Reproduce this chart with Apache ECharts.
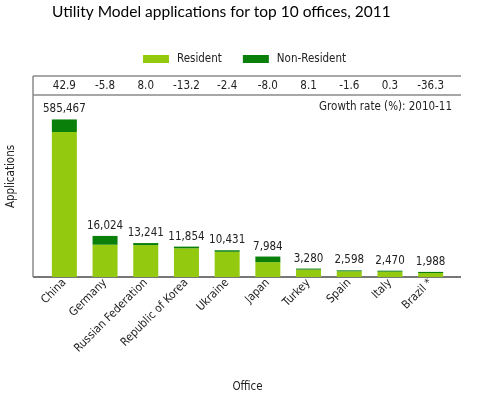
<!DOCTYPE html>
<html><head><meta charset="utf-8">
<script src="https://cdn.jsdelivr.net/npm/echarts@6/dist/echarts.min.js"></script>
<style>html,body{margin:0;padding:0;background:#fff}#c{width:477px;height:394px}</style>
</head><body><div id="c"></div>
<script>
const offices = ['China','Germany','Russian Federation','Republic of Korea','Ukraine','Japan','Turkey','Spain','Italy','Brazil *'];
const totals = [585467,16024,13241,11854,10431,7984,3280,2598,2470,1988];
const nonResident = [4900,3424,800,650,600,2184,400,400,400,450];
const resident = totals.map((t,i)=>t-nonResident[i]);
const growth = ['42.9','-5.8','8.0','-13.2','-2.4','-8.0','8.1','-1.6','0.3','-36.3'];

const FONT = '"DejaVu Sans Condensed",sans-serif';
const FS = 11;
const W=477,H=394, GL=44, GR=26, GT=95, GB=117;
const FL=33, FR=461, FT=76, BASE=H-GB;
const lineColor='#8a8a8a';

const chart = echarts.init(document.getElementById('c'));
chart.setOption({
  animation:false,
  title:{text:'Utility Model applications for top 10 offices, 2011',left:47,top:-1,
    textStyle:{fontFamily:'Lato, sans-serif',fontSize:15.5,fontWeight:'normal',color:'#000'}},
  legend:{left:138,top:48,itemWidth:26,itemHeight:8,itemGap:21,icon:'rect',
    textStyle:{fontFamily:FONT,fontSize:FS+0.5,color:'#222',padding:[0,0,0,3]},
    data:['Resident','Non-Resident']},
  grid:{left:GL,right:GR,top:GT,bottom:GB},
  xAxis:[
    {type:'category',data:offices,position:'bottom',
     axisLine:{show:false},axisTick:{show:false},
     axisLabel:{rotate:45,margin:4,fontFamily:FONT,fontSize:FS+0.5,color:'#222',interval:0},
     name:'Office',nameLocation:'middle',nameGap:104,
     nameTextStyle:{fontFamily:FONT,fontSize:FS+0.5,color:'#222'}},
    {type:'category',data:growth,position:'top',
     axisLine:{show:false},axisTick:{show:false},
     axisLabel:{margin:3,fontFamily:FONT,fontSize:FS+0.5,color:'#222',interval:0}}
  ],
  yAxis:{type:'value',min:0,max:595000,
    breaks:[{start:20000,end:544000,gap:0}],
    breakArea:{show:false},
    axisLine:{show:false},axisTick:{show:false},axisLabel:{show:false},splitLine:{show:false}},
  series:[
    {name:'Resident',type:'bar',stack:'a',barWidth:25,data:resident,
     itemStyle:{color:'#93c90f'}},
    {name:'Non-Resident',type:'bar',stack:'a',barWidth:25,data:nonResident,
     itemStyle:{color:'#0a800a'},
     label:{show:true,position:'top',distance:4,fontFamily:FONT,fontSize:FS+0.5,color:'#222',
       formatter:p=>totals[p.dataIndex].toLocaleString('en-US')}}
  ],
  graphic:[
    {type:'line',shape:{x1:FL,y1:FT,x2:FR,y2:FT},style:{stroke:lineColor,lineWidth:1.5}},
    {type:'line',shape:{x1:FL,y1:GT,x2:FR,y2:GT},style:{stroke:lineColor,lineWidth:1.5}},
    {type:'line',shape:{x1:FL,y1:BASE,x2:FR,y2:BASE},style:{stroke:'#777',lineWidth:2}},
    {type:'line',shape:{x1:FL,y1:FT,x2:FL,y2:BASE},style:{stroke:lineColor,lineWidth:1.5}},
    {type:'text',x:452,y:107,style:{text:'Growth rate (%): 2010-11',align:'right',verticalAlign:'middle',
      font:(FS+0.5)+'px '+FONT,fill:'#222'}},
    {type:'text',x:11.5,y:(FT+BASE)/2,rotation:Math.PI/2,style:{text:'Applications',align:'center',verticalAlign:'middle',
      font:(FS+0.5)+'px '+FONT,fill:'#222'}}
  ]
});
</script></body></html>
